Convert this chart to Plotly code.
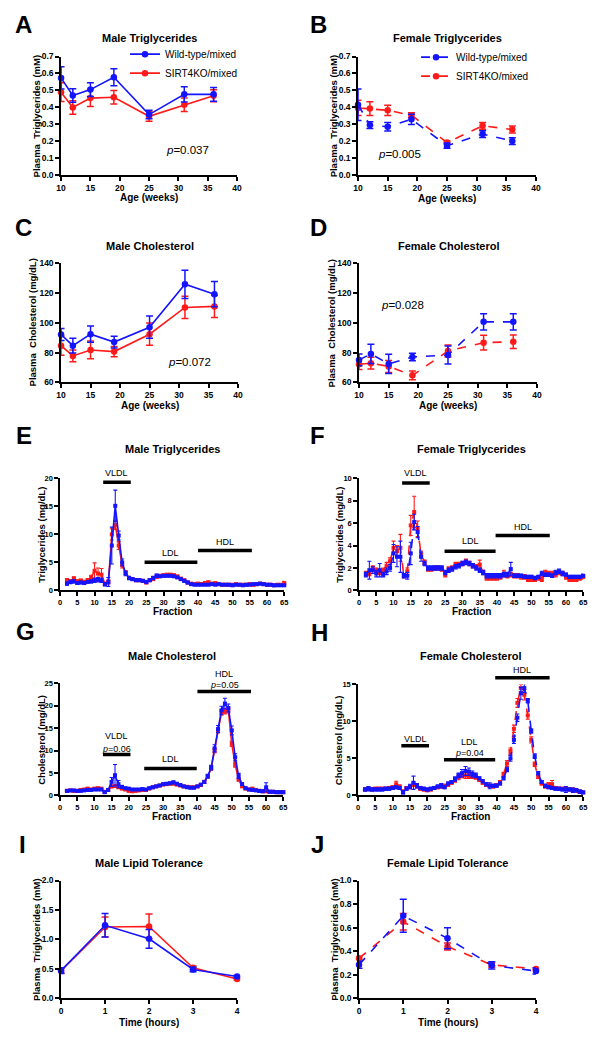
import plotly.graph_objects as go

W, H = 601, 1041
BLUE = "#1414ff"
RED = "#ff1a1a"
FONT = "Liberation Sans, Arial, sans-serif"

# ---------------- data ----------------
age_weeks = [10, 12, 15, 19, 25, 31, 36]
male_tg_wt = [0.574, 0.470, 0.505, 0.578, 0.358, 0.477, 0.477]
male_tg_wt_err = [0.065, 0.040, 0.040, 0.050, 0.025, 0.045, 0.040]
male_tg_ko = [0.490, 0.400, 0.455, 0.460, 0.348, 0.416, 0.469]
male_tg_ko_err = [0.055, 0.040, 0.050, 0.040, 0.030, 0.040, 0.035]

female_tg_wt = [0.416, 0.296, 0.286, 0.330, 0.175, 0.243, 0.202]
female_tg_wt_err = [0.093, 0.020, 0.025, 0.030, 0.015, 0.020, 0.020]
female_tg_ko = [0.397, 0.393, 0.383, 0.354, 0.193, 0.292, 0.270]
female_tg_ko_err = [0.045, 0.040, 0.030, 0.015, 0.010, 0.020, 0.020]

male_chol_wt = [92.2, 84.7, 92.4, 87.1, 97.1, 126.0, 119.3]
male_chol_wt_err = [4.0, 5.0, 5.5, 4.0, 7.5, 9.5, 8.5]
male_chol_ko = [84.7, 77.8, 81.8, 80.7, 92.4, 110.4, 111.1]
male_chol_ko_err = [6.5, 4.0, 6.0, 3.5, 7.5, 7.5, 7.5]

female_chol_wt = [75.1, 79.1, 72.4, 77.1, 78.4, 100.7, 100.7]
female_chol_wt_err = [4.0, 6.5, 6.5, 2.5, 6.0, 5.5, 5.5]
female_chol_ko = [72.2, 72.9, 70.7, 64.7, 81.1, 86.7, 87.3]
female_chol_ko_err = [3.5, 4.0, 4.0, 3.0, 4.0, 5.0, 4.5]

fractions = list(range(2, 66))

male_fr_tg_wt = [
    1.2, 1.5, 1.6, 1.3, 1.4, 1.3, 1.5, 1.6, 1.8, 1.9,
    1.8, 1.1, 1.5, 8.0, 15.1, 9.8, 5.0, 3.0, 2.2, 2.0,
    1.8, 1.8, 1.7, 1.5, 1.8, 2.2, 2.6, 2.5, 2.6, 2.6,
    2.6, 2.5, 2.3, 2.0, 1.7, 1.4, 1.1, 1.0, 1.0, 1.0,
    1.0, 1.0, 1.1, 1.0, 1.1, 1.0, 1.0, 1.0, 0.9, 1.0,
    1.0, 0.9, 1.0, 1.0, 1.1, 1.1, 1.2, 1.1, 1.0, 1.0,
    0.9, 0.9, 0.9, 0.9]
male_fr_tg_wt_err = [
    0.3, 0.3, 0.3, 0.2, 0.2, 0.2, 0.2, 0.3, 0.4, 0.4,
    0.4, 0.3, 0.8, 3.3, 2.8, 0.8, 0.6, 0.4, 0.3, 0.2,
    0.2, 0.2, 0.2, 0.2, 0.2, 0.3, 0.3, 0.2, 0.2, 0.2,
    0.2, 0.2, 0.2, 0.2, 0.2, 0.2, 0.15, 0.15, 0.15, 0.15,
    0.15, 0.15, 0.15, 0.15, 0.15, 0.15, 0.15, 0.15, 0.15, 0.15,
    0.15, 0.15, 0.15, 0.15, 0.15, 0.15, 0.15, 0.15, 0.15, 0.15,
    0.15, 0.15, 0.15, 0.15]
male_fr_tg_ko = [
    1.8, 1.6, 2.1, 1.6, 1.7, 1.5, 1.8, 2.3, 3.5, 3.0,
    2.8, 1.2, 1.5, 10.0, 11.7, 8.0, 4.5, 3.2, 2.2, 2.0,
    1.8, 1.8, 1.7, 1.4, 1.8, 2.0, 2.4, 2.6, 2.7, 2.8,
    2.8, 2.7, 2.5, 2.1, 1.8, 1.4, 1.2, 1.1, 1.2, 1.1,
    1.3, 1.4, 1.2, 1.3, 1.1, 1.0, 1.0, 1.0, 1.0, 1.1,
    1.0, 1.0, 1.0, 1.1, 1.0, 1.1, 1.2, 1.1, 1.0, 1.0,
    0.9, 1.0, 1.0, 1.3]
male_fr_tg_ko_err = [
    0.3, 0.3, 0.3, 0.3, 0.3, 0.3, 0.3, 0.4, 1.4, 1.0,
    1.1, 0.2, 0.4, 1.0, 0.8, 0.7, 0.5, 0.3, 0.2, 0.2,
    0.2, 0.2, 0.2, 0.2, 0.2, 0.2, 0.2, 0.2, 0.2, 0.2,
    0.2, 0.2, 0.2, 0.2, 0.2, 0.2, 0.2, 0.2, 0.2, 0.2,
    0.2, 0.3, 0.2, 0.2, 0.2, 0.2, 0.2, 0.2, 0.2, 0.2,
    0.2, 0.2, 0.2, 0.2, 0.2, 0.2, 0.2, 0.2, 0.2, 0.2,
    0.2, 0.2, 0.2, 0.3]

female_fr_tg_wt = [
    1.4, 1.8, 1.8, 1.5, 1.8, 1.4, 1.7, 2.0, 3.3, 3.0,
    3.0, 1.3, 1.3, 3.3, 6.1, 5.2, 3.0, 2.4, 2.0, 2.0,
    2.0, 2.0, 2.0, 1.6, 1.8, 1.9, 2.1, 2.2, 2.4, 2.5,
    2.4, 2.2, 2.0, 1.8, 1.6, 1.3, 1.3, 1.3, 1.3, 1.3,
    1.4, 1.4, 1.9, 1.3, 1.3, 1.3, 1.2, 1.2, 1.2, 1.1,
    1.2, 1.5, 1.4, 1.4, 1.3, 1.6, 1.7, 1.5, 1.4, 1.2,
    1.2, 1.2, 1.2, 1.3]
female_fr_tg_wt_err = [
    0.2, 0.8, 0.3, 0.3, 0.6, 0.2, 0.3, 0.3, 0.8, 0.9,
    1.4, 0.2, 0.3, 1.0, 0.7, 0.5, 0.4, 0.2, 0.2, 0.2,
    0.2, 0.2, 0.2, 0.2, 0.2, 0.2, 0.2, 0.2, 0.2, 0.2,
    0.2, 0.2, 0.2, 0.2, 0.2, 0.2, 0.2, 0.2, 0.2, 0.2,
    0.2, 0.2, 0.6, 0.15, 0.15, 0.15, 0.15, 0.15, 0.15, 0.15,
    0.15, 0.2, 0.15, 0.15, 0.15, 0.2, 0.2, 0.2, 0.15, 0.15,
    0.15, 0.15, 0.15, 0.15]
female_fr_tg_ko = [
    1.5, 1.5, 2.0, 1.8, 1.6, 1.8, 2.2, 2.6, 3.8, 3.5,
    3.8, 1.3, 1.7, 5.8, 7.0, 5.5, 3.2, 2.5, 1.9, 1.9,
    2.0, 2.0, 1.9, 1.4, 1.9, 2.0, 2.3, 2.3, 2.4, 2.6,
    2.4, 2.2, 2.1, 2.3, 1.6, 1.1, 1.1, 1.1, 1.1, 1.2,
    1.5, 1.3, 1.4, 1.3, 1.3, 1.2, 1.2, 1.0, 1.0, 1.0,
    1.1, 1.0, 1.6, 1.5, 1.5, 1.4, 1.6, 1.5, 1.2, 1.0,
    1.0, 1.0, 1.1, 1.2]
female_fr_tg_ko_err = [
    0.2, 0.2, 0.2, 0.2, 0.2, 0.2, 0.3, 0.3, 0.6, 0.5,
    1.2, 0.2, 0.3, 0.9, 1.4, 0.7, 0.3, 0.2, 0.2, 0.2,
    0.2, 0.2, 0.2, 0.2, 0.2, 0.2, 0.2, 0.2, 0.2, 0.2,
    0.2, 0.2, 0.2, 0.4, 0.2, 0.2, 0.2, 0.2, 0.2, 0.2,
    0.3, 0.2, 0.2, 0.2, 0.2, 0.2, 0.2, 0.2, 0.2, 0.2,
    0.2, 0.2, 0.2, 0.2, 0.2, 0.2, 0.2, 0.2, 0.2, 0.2,
    0.2, 0.2, 0.2, 0.2]

male_fr_chol_wt = [
    1.0, 1.1, 1.1, 1.0, 1.0, 1.1, 1.2, 1.2, 1.3, 1.3,
    1.3, 0.7, 1.2, 3.0, 4.5, 2.5, 1.9, 1.6, 1.5, 1.3,
    1.3, 1.3, 1.4, 1.3, 1.6, 1.8, 2.0, 2.2, 2.5, 2.6,
    2.7, 2.9, 2.6, 2.3, 2.0, 1.8, 1.7, 1.7, 2.0, 2.4,
    3.0, 4.3, 6.2, 10.5, 14.8, 19.0, 20.5, 19.5, 14.5, 8.5,
    4.3, 2.5, 1.6, 1.3, 1.2, 1.1, 1.0, 0.9, 1.8, 0.8,
    0.8, 0.7, 0.7, 0.7]
male_fr_chol_wt_err = [
    0.2, 0.2, 0.2, 0.2, 0.2, 0.2, 0.2, 0.2, 0.2, 0.2,
    0.2, 0.2, 0.3, 1.0, 2.4, 0.8, 0.3, 0.2, 0.2, 0.2,
    0.2, 0.2, 0.2, 0.2, 0.2, 0.2, 0.2, 0.2, 0.2, 0.2,
    0.2, 0.3, 0.2, 0.2, 0.2, 0.2, 0.2, 0.2, 0.2, 0.2,
    0.3, 0.4, 0.5, 0.8, 0.8, 0.9, 1.2, 0.9, 1.0, 0.8,
    0.6, 0.3, 0.2, 0.2, 0.2, 0.2, 0.2, 0.2, 1.0, 0.2,
    0.2, 0.2, 0.2, 0.2]
male_fr_chol_ko = [
    1.0, 1.1, 1.0, 1.0, 1.2, 1.3, 1.5, 1.3, 1.5, 1.6,
    1.5, 0.8, 1.2, 2.0, 2.1, 1.8, 1.5, 1.3, 1.0, 0.9,
    1.0, 1.1, 1.2, 1.2, 1.5, 1.8, 2.0, 2.2, 2.4, 2.5,
    2.6, 2.6, 2.4, 2.2, 2.0, 1.9, 1.8, 1.8, 2.0, 2.3,
    3.0, 4.2, 6.0, 10.0, 14.5, 18.5, 18.8, 19.0, 11.5, 6.8,
    3.5, 2.0, 1.5, 1.3, 1.5, 1.2, 1.0, 0.9, 0.9, 0.8,
    0.8, 0.7, 0.7, 0.7]
male_fr_chol_ko_err = [
    0.2, 0.2, 0.2, 0.2, 0.2, 0.2, 0.2, 0.2, 0.2, 0.2,
    0.2, 0.2, 0.2, 0.3, 0.3, 0.2, 0.2, 0.2, 0.2, 0.2,
    0.2, 0.2, 0.2, 0.2, 0.2, 0.2, 0.2, 0.2, 0.2, 0.2,
    0.2, 0.2, 0.2, 0.2, 0.2, 0.2, 0.2, 0.2, 0.2, 0.2,
    0.3, 0.3, 0.4, 0.5, 0.5, 0.6, 0.6, 0.6, 0.6, 0.5,
    0.3, 0.2, 0.2, 0.2, 0.2, 0.2, 0.2, 0.2, 0.2, 0.2,
    0.2, 0.2, 0.2, 0.2]

female_fr_chol_wt = [
    0.8, 0.9, 0.8, 0.8, 0.8, 0.8, 0.9, 0.9, 1.0, 1.1,
    1.0, 0.4, 0.9, 1.2, 1.7, 1.3, 1.0, 0.9, 0.8, 0.9,
    1.0, 1.2, 1.3, 1.1, 1.6, 1.8, 2.2, 2.7, 3.0, 3.3,
    3.2, 2.9, 2.7, 2.3, 1.9, 1.5, 1.3, 1.3, 1.3, 1.6,
    2.3, 3.5, 5.0, 7.5, 10.5, 13.8, 14.5, 12.8, 8.7, 5.3,
    3.0, 1.8, 1.3, 1.1, 1.0, 0.9, 0.9, 0.8, 0.8, 0.8,
    0.7, 0.7, 0.5, 0.4]
female_fr_chol_wt_err = [
    0.2, 0.3, 0.2, 0.2, 0.2, 0.2, 0.2, 0.2, 0.2, 0.2,
    0.2, 0.2, 0.2, 0.3, 0.9, 0.3, 0.2, 0.2, 0.2, 0.2,
    0.2, 0.2, 0.3, 0.2, 0.2, 0.2, 0.3, 0.3, 0.5, 0.6,
    0.5, 0.4, 0.3, 0.2, 0.2, 0.2, 0.4, 0.2, 0.2, 0.2,
    0.2, 0.3, 0.4, 0.5, 0.5, 0.8, 0.6, 0.3, 0.3, 0.3,
    0.2, 0.2, 0.2, 0.2, 0.2, 0.2, 0.2, 0.2, 0.4, 0.2,
    0.3, 0.2, 0.2, 0.2]
female_fr_chol_ko = [
    0.8, 0.9, 0.8, 0.9, 0.9, 0.9, 0.9, 1.0, 1.1, 1.5,
    1.2, 0.5, 1.0, 1.1, 1.5, 1.2, 0.9, 0.8, 0.7, 0.8,
    1.0, 1.1, 1.2, 1.3, 1.4, 1.7, 2.0, 2.4, 2.7, 2.7,
    2.6, 2.6, 2.4, 2.1, 1.7, 1.4, 1.3, 1.2, 1.4, 1.8,
    2.8, 4.3, 6.0, 9.0, 12.5, 14.5, 13.6, 10.8, 7.5, 4.2,
    2.5, 1.6, 1.2, 1.5, 1.5, 1.0, 0.9, 0.9, 0.9, 0.8,
    0.8, 0.6, 0.5, 0.4]
female_fr_chol_ko_err = [
    0.2, 0.2, 0.2, 0.2, 0.2, 0.2, 0.2, 0.2, 0.2, 0.4,
    0.2, 0.2, 0.2, 0.2, 0.3, 0.2, 0.2, 0.2, 0.2, 0.2,
    0.2, 0.2, 0.2, 0.2, 0.2, 0.2, 0.2, 0.3, 0.3, 0.4,
    0.3, 0.3, 0.2, 0.2, 0.2, 0.2, 0.2, 0.2, 0.2, 0.2,
    0.3, 0.4, 0.4, 0.5, 0.6, 0.5, 0.7, 0.5, 0.4, 0.3,
    0.2, 0.2, 0.2, 0.2, 0.5, 0.2, 0.2, 0.2, 0.2, 0.2,
    0.2, 0.2, 0.2, 0.2]

time_hours = [0, 1, 2, 3, 4]
male_lt_wt = [0.47, 1.24, 1.01, 0.49, 0.37]
male_lt_wt_err = [0.05, 0.20, 0.16, 0.04, 0.02]
male_lt_ko = [0.47, 1.21, 1.22, 0.52, 0.33]
male_lt_ko_err = [0.04, 0.17, 0.21, 0.03, 0.02]
female_lt_wt = [0.285, 0.70, 0.51, 0.28, 0.232]
female_lt_wt_err = [0.03, 0.14, 0.09, 0.03, 0.025]
female_lt_ko = [0.34, 0.65, 0.44, 0.285, 0.25]
female_lt_ko_err = [0.01, 0.07, 0.03, 0.02, 0.01]

series_names = ["Wild-type/mixed", "SIRT4KO/mixed"]

# lipoprotein region bars (in data units): (label, x0, x1, bar_y, label_y)
regions_E = [("VLDL", 12.5, 20.5, 19.3, 21.0), ("LDL", 24.5, 39.8, 5.0, 6.7), ("HDL", 40.0, 55.6, 7.1, 8.7)]
regions_F = [("VLDL", 12.5, 20.5, 9.6, 10.45), ("LDL", 24.8, 39.6, 3.5, 4.45), ("HDL", 39.6, 55.3, 4.9, 5.65)]
regions_G = [("VLDL", 12.5, 20.5, 9.1, 13.3), ("LDL", 24.5, 39.8, 6.0, 8.2), ("HDL", 40.0, 55.6, 23.2, 27.0)]
regions_H = [("VLDL", 12.5, 20.5, 6.7, 7.6), ("LDL", 24.8, 39.6, 4.8, 7.2), ("HDL", 39.6, 55.3, 15.9, 16.9)]
region_p_G = [("<i>p</i>=0.06", 16.5, 10.3), ("<i>p</i>=0.05", 47.8, 24.7)]
region_p_H = [("<i>p</i>=0.04", 32.2, 5.7)]

# ---------------- layout helpers ----------------
def px(x):
    return x / W

def py(y):
    return 1 - y / H

fig = go.Figure()
annotations = []
shapes = []
layout = {}

def axis_cfg(rng, dtick, fmt, size):
    return dict(range=rng, dtick=dtick, tick0=rng[0], tickformat=fmt,
                showline=True, linecolor="black", linewidth=1.5,
                ticks="outside", ticklen=4, tickwidth=1.5, tickcolor="black",
                showgrid=False, zeroline=False, fixedrange=True,
                tickfont=dict(family=FONT, size=size, color="black", weight="bold"))

specs = [
    (1, "A", "Male Triglycerides", (57, 236), (52, 172), [10, 40], 5, "d", [0, 0.7], 0.1, ".1f", 8.5,
     age_weeks, male_tg_wt, male_tg_wt_err, male_tg_ko, male_tg_ko_err, False, False,
     "Plasma  Triglycerides (mM)", 32, "Age (weeks)", 194, "legend"),
    (2, "B", "Female Triglycerides", (359, 540), (52, 172), [10, 40], 5, "d", [0, 0.7], 0.1, ".1f", 8.5,
     age_weeks, female_tg_wt, female_tg_wt_err, female_tg_ko, female_tg_ko_err, True, False,
     "Plasma  Triglycerides (mM)", 334, "Age (weeks)", 195, "legend2"),
    (3, "C", "Male Cholesterol", (57, 237), (261, 381), [10, 40], 5, "d", [60, 140], 20, "d", 8.5,
     age_weeks, male_chol_wt, male_chol_wt_err, male_chol_ko, male_chol_ko_err, False, False,
     "Plasma  Cholesterol (mg/dL)", 28, "Age (weeks)", 404, None),
    (4, "D", "Female Cholesterol", (360, 541), (261, 381), [10, 40], 5, "d", [60, 140], 20, "d", 8.5,
     age_weeks, female_chol_wt, female_chol_wt_err, female_chol_ko, female_chol_ko_err, True, False,
     "Plasma  Cholesterol (mg/dL)", 332, "Age (weeks)", 404, None),
    (5, "E", "Male Triglycerides", (56, 284), (478, 591), [0, 65], 5, "d", [0, 20], 5, "d", 7.5,
     fractions, male_fr_tg_wt, male_fr_tg_wt_err, male_fr_tg_ko, male_fr_tg_ko_err, False, True,
     "Triglycerides (mg/dL)", 37, "Fraction", 612, None),
    (6, "F", "Female Triglycerides", (360, 588), (478, 591), [0, 65], 5, "d", [0, 10], 2, "d", 7.5,
     fractions, female_fr_tg_wt, female_fr_tg_wt_err, female_fr_tg_ko, female_fr_tg_ko_err, True, True,
     "Triglycerides (mg/dL)", 340, "Fraction", 612, None),
    (7, "G", "Male Cholesterol", (56, 283), (685, 798), [0, 65], 5, "d", [0, 25], 5, "d", 7.5,
     fractions, male_fr_chol_wt, male_fr_chol_wt_err, male_fr_chol_ko, male_fr_chol_ko_err, False, True,
     "Cholesterol (mg/dL)", 37, "Fraction", 819, None),
    (8, "H", "Female Cholesterol", (359, 588), (686, 798), [0, 65], 5, "d", [0, 15], 5, "d", 7.5,
     fractions, female_fr_chol_wt, female_fr_chol_wt_err, female_fr_chol_ko, female_fr_chol_ko_err, True, True,
     "Cholesterol (mg/dL)", 340, "Fraction", 819, None),
    (9, "I", "Male Lipid Tolerance", (57, 236), (884, 1003), [0, 4], 1, "d", [0, 2], 0.5, ".1f", 8.5,
     time_hours, male_lt_wt, male_lt_wt_err, male_lt_ko, male_lt_ko_err, False, False,
     "Plasma  Triglycerides (mM)", 32, "Time (hours)", 1027, None),
    (10, "J", "Female Lipid Tolerance", (360, 540), (884, 1003), [0, 4], 1, "d", [0, 1], 0.2, ".1f", 8.5,
     time_hours, female_lt_wt, female_lt_wt_err, female_lt_ko, female_lt_ko_err, True, False,
     "Plasma  Triglycerides (mM)", 335, "Time (hours)", 1027, None),
]

title_y = {1: 33, 2: 33, 3: 243, 4: 243, 5: 448, 6: 448, 7: 657, 8: 657, 9: 866, 10: 866}
letter_pos = {1: (8, 20), 2: (308, 20), 3: (8, 225), 4: (308, 225), 5: (9, 435), 6: (308, 435),
              7: (9, 633), 8: (309, 634), 9: (12, 848), 10: (309, 848)}

panel_info = {}
for s in specs:
    (i, letter, title, xpx, ypx, xr, xd, xfmt, yr, yd, yfmt, tsize, x, wt, wte, ko, koe,
     dashed, small, ytitle, ytx, xtitle, xty, leg) = s
    xa = "xaxis" if i == 1 else f"xaxis{i}"
    ya = "yaxis" if i == 1 else f"yaxis{i}"
    xs = "x" if i == 1 else f"x{i}"
    ys = "y" if i == 1 else f"y{i}"
    layout[xa] = dict(domain=[px(xpx[0]), px(xpx[1])], anchor=ys, **axis_cfg(xr, xd, xfmt, tsize))
    layout[ya] = dict(domain=[py(ypx[1]), py(ypx[0])], anchor=xs, **axis_cfg(yr, yd, yfmt, tsize))
    dash = "dash" if dashed else "solid"
    msym = "square" if small else "circle"
    msize = 4 if small else 6.5
    for name, yv, ev, col, rank in [(series_names[1], ko, koe, RED, 2),
                                    (series_names[0], wt, wte, BLUE, 1)]:
        fig.add_trace(go.Scatter(
            x=x, y=yv, name=name, mode="lines+markers",
            error_y=dict(type="data", array=ev, visible=True, color=col,
                         thickness=1.1 if small else 1.5, width=2 if small else 3.5),
            line=dict(color=col, width=1.6, dash=dash),
            marker=dict(symbol=msym, size=msize, color=col),
            xaxis=xs, yaxis=ys, cliponaxis=False,
            showlegend=leg is not None, legend=leg or "legend",
            legendrank=rank))
    cx = (xpx[0] + xpx[1]) / 2
    cy = (ypx[0] + ypx[1]) / 2
    panel_info[letter] = (xs, ypx, yr)
    annotations.append(dict(text=f"<b>{letter}</b>", x=px(letter_pos[i][0]), y=py(letter_pos[i][1]),
                            xref="paper", yref="paper", showarrow=False, xanchor="left",
                            yanchor="middle", font=dict(family=FONT, size=24, color="black")))
    annotations.append(dict(text=f"<b>{title}</b>", x=px(cx), y=py(title_y[i]), xref="paper", yref="paper",
                            showarrow=False, xanchor="center", yanchor="middle",
                            font=dict(family=FONT, size=11, color="black")))
    annotations.append(dict(text=f"<b>{ytitle}</b>", x=px(ytx), y=py(cy), xref="paper", yref="paper",
                            showarrow=False, textangle=-90, xanchor="center", yanchor="middle",
                            font=dict(family=FONT, size=9.5, color="black")))
    annotations.append(dict(text=f"<b>{xtitle}</b>", x=px(cx), y=py(xty), xref="paper", yref="paper",
                            showarrow=False, xanchor="center", yanchor="middle",
                            font=dict(family=FONT, size=10, color="black")))

# p-values for A-D
for txt, xx, yy in [("<i>p</i>=0.037", 186, 146), ("<i>p</i>=0.005", 401, 150),
                    ("<i>p</i>=0.072", 188, 360), ("<i>p</i>=0.028", 404, 303)]:
    annotations.append(dict(text=txt, x=px(xx), y=py(yy), xref="paper", yref="paper", showarrow=False,
                            xanchor="center", yanchor="middle", font=dict(family=FONT, size=11.5, color="black")))

def ypaper(letter, val):
    xs, ypx, yr = panel_info[letter]
    pix = ypx[1] - (val - yr[0]) / (yr[1] - yr[0]) * (ypx[1] - ypx[0])
    return py(pix)

# lipoprotein bars and labels (x in data units, y converted to paper so they may sit above the axis)
for letter, regs in [("E", regions_E), ("F", regions_F), ("G", regions_G), ("H", regions_H)]:
    xs = panel_info[letter][0]
    for lab, x0, x1, by, ly in regs:
        yb = ypaper(letter, by)
        shapes.append(dict(type="line", xref=xs, yref="paper", x0=x0, x1=x1, y0=yb, y1=yb,
                           line=dict(color="black", width=3.5)))
        annotations.append(dict(text=lab, x=(x0 + x1) / 2, y=ypaper(letter, ly), xref=xs, yref="paper",
                                showarrow=False, xanchor="center", yanchor="middle",
                                font=dict(family=FONT, size=9, color="black")))
for letter, plist in [("G", region_p_G), ("H", region_p_H)]:
    xs = panel_info[letter][0]
    for txt, xx, yy in plist:
        annotations.append(dict(text=txt, x=xx, y=ypaper(letter, yy), xref=xs, yref="paper", showarrow=False,
                                xanchor="center", yanchor="middle",
                                font=dict(family=FONT, size=9, color="black")))

leg_common = dict(xanchor="left", yanchor="top", bgcolor="rgba(0,0,0,0)", borderwidth=0,
                  font=dict(family=FONT, size=10, color="black"), tracegroupgap=0,
                  itemwidth=30, traceorder="normal")
layout["legend"] = dict(x=px(122), y=py(35), **leg_common)
layout["legend2"] = dict(x=px(418), y=py(38), **leg_common)

fig.update_layout(width=W, height=H, margin=dict(l=0, r=0, t=0, b=0),
                  paper_bgcolor="white", plot_bgcolor="white",
                  annotations=annotations, shapes=shapes, **layout)

fig.write_html("out.html", config={"displayModeBar": False},
               post_script="document.body.style.margin='0px';document.body.style.overflow='hidden';")
